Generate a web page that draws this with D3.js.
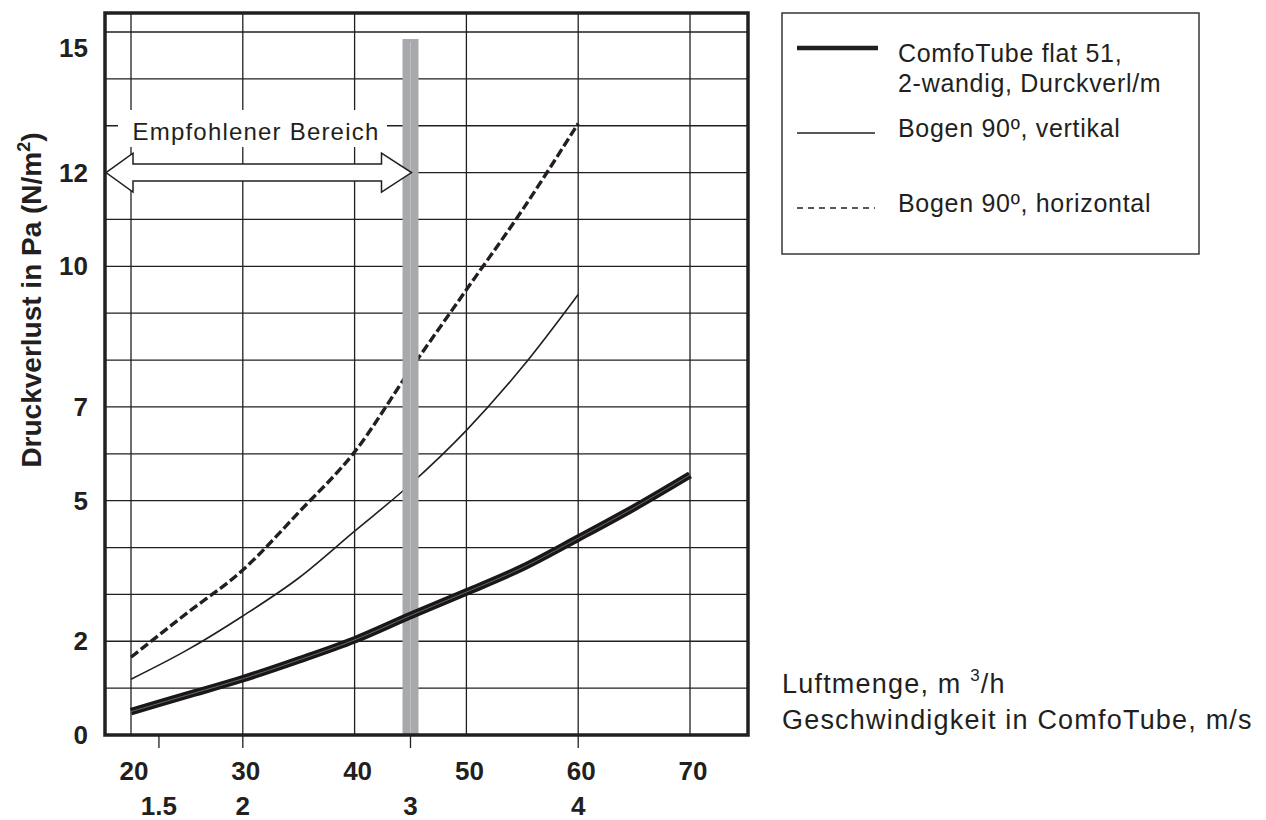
<!DOCTYPE html>
<html>
<head>
<meta charset="utf-8">
<script src="https://cdn.jsdelivr.net/npm/d3@7"></script>
<style>
  body { margin: 0; background: #fff; }
  svg { font-family: "Liberation Sans", Arial, Helvetica, sans-serif; }
</style>
</head>
<body>
<div id="chart"></div>
<script>
// Luftmenge (m3/h) and Druckverlust (Pa)
const flow = [20, 25, 30, 35, 40, 45, 50, 55, 60, 65, 70];
const tubeLoss = [0.5, 0.85, 1.2, 1.6, 2.03, 2.55, 3.05, 3.57, 4.2, 4.85, 5.55];
const bogenFlow = [20, 25, 30, 35, 40, 45, 50, 55, 60];
const bogenVertikal = [1.19, 1.81, 2.54, 3.35, 4.35, 5.35, 6.5, 7.85, 9.4];
const bogenHorizontal = [1.66, 2.6, 3.52, 4.75, 6.04, 7.8, 9.5, 11.2, 13.05];

const yTicks = [0, 2, 5, 7, 10, 12, 15];
const flowTicks = [20, 30, 40, 50, 60, 70];
const speedTicks = [1.5, 2, 3, 4];
const recommendedMax = 3; // m/s
const legendLabels = [
    ["ComfoTube flat 51,", "2-wandig, Durckverl/m"],
    ["Bogen 90º, vertikal"],
    ["Bogen 90º, horizontal"]
];

const W = 1266, H = 820;
const box = { left: 105, right: 748, top: 13, bottom: 735 };

const svg = d3.select("#chart").append("svg")
    .attr("width", W)
    .attr("height", H);

const x = d3.scaleLinear().domain([20, 70]).range([131, 690]);
// velocity in the tube = flow / 15
const xv = d3.scaleLinear().domain([20 / 15, 70 / 15]).range([131, 690]);
const y = d3.scaleLinear().domain([0, 15]).range([box.bottom, 32]);

// grid
const grid = svg.append("g").attr("stroke", "#231f20").attr("stroke-width", 1.3);
grid.selectAll("line.h")
    .data(d3.range(1, 16))
    .enter().append("line")
    .attr("x1", box.left).attr("x2", box.right)
    .attr("y1", d => y(d)).attr("y2", d => y(d));
grid.selectAll("line.v")
    .data(flowTicks)
    .enter().append("line")
    .attr("x1", d => x(d)).attr("x2", d => x(d))
    .attr("y1", box.top).attr("y2", box.bottom);

// label of recommended range, white background hides grid
svg.append("rect")
    .attr("x", 118).attr("y", 110)
    .attr("width", 269).attr("height", 37)
    .attr("fill", "#fff");
svg.append("text")
    .attr("x", 256).attr("y", 140)
    .attr("text-anchor", "middle")
    .attr("font-size", 24)
    .attr("letter-spacing", 1.2)
    .attr("fill", "#231f20")
    .text("Empfohlener Bereich");

const line = d3.line()
    .x(d => x(d[0]))
    .y(d => y(d[1]))
    .curve(d3.curveMonotoneX);

// bends, behind the grey bar
svg.append("path")
    .datum(d3.zip(bogenFlow, bogenVertikal))
    .attr("d", line)
    .attr("fill", "none")
    .attr("stroke", "#231f20")
    .attr("stroke-width", 1.6);

svg.append("path")
    .datum(d3.zip(bogenFlow, bogenHorizontal))
    .attr("d", line)
    .attr("fill", "none")
    .attr("stroke", "#231f20")
    .attr("stroke-width", 3.4)
    .attr("stroke-dasharray", "9,3.5");

// grey bar at 3 m/s
const bx = xv(recommendedMax);
svg.append("rect")
    .attr("x", bx - 8).attr("y", y(15) + 7)
    .attr("width", 16).attr("height", box.bottom - y(15) - 7)
    .attr("fill", "#a7a9ac");
svg.append("line")
    .attr("x1", bx).attr("x2", bx)
    .attr("y1", y(15) + 10).attr("y2", box.bottom)
    .attr("stroke", "#c3c5c7").attr("stroke-width", 0.8);

// double arrow
const ay = y(12), ax0 = box.left + 1, ax1 = bx + 1;
const hl = 27, hw = 19.5, bw = 8.5;
svg.append("path")
    .attr("d", [
        "M", ax0, ay,
        "L", ax0 + hl, ay - hw,
        "L", ax0 + hl, ay - bw,
        "L", ax1 - hl - 3, ay - bw,
        "L", ax1 - hl - 3, ay - hw,
        "L", ax1, ay,
        "L", ax1 - hl - 3, ay + hw,
        "L", ax1 - hl - 3, ay + bw,
        "L", ax0 + hl, ay + bw,
        "L", ax0 + hl, ay + hw, "Z"
    ].join(" "))
    .attr("fill", "#fff")
    .attr("stroke", "#231f20")
    .attr("stroke-width", 1.5);

// ComfoTube line, on top
const tube = d3.zip(flow, tubeLoss);
svg.append("path")
    .datum(tube)
    .attr("d", line)
    .attr("fill", "none")
    .attr("stroke", "#1a1718")
    .attr("stroke-width", 7.5);
svg.append("path")
    .datum(tube)
    .attr("d", line)
    .attr("fill", "none")
    .attr("stroke", "#8a8889")
    .attr("stroke-width", 0.7);

// frame
svg.append("rect")
    .attr("x", box.left).attr("y", box.top)
    .attr("width", box.right - box.left)
    .attr("height", box.bottom - box.top)
    .attr("fill", "none")
    .attr("stroke", "#231f20")
    .attr("stroke-width", 3.5);

// y labels
svg.selectAll("text.ylab")
    .data(yTicks)
    .enter().append("text")
    .attr("class", "ylab")
    .attr("x", 88)
    // the top label sits a little below its grid line in the original
    .attr("y", d => y(d) + 9 + (d === 15 ? 16 : 0))
    .attr("text-anchor", "end")
    .attr("font-size", 26)
    .attr("font-weight", "bold")
    .attr("fill", "#231f20")
    .text(d => d);

svg.append("text")
    .attr("transform", "translate(41,300) rotate(-90)")
    .attr("text-anchor", "middle")
    .attr("font-size", 28)
    .attr("font-weight", "bold")
    .attr("fill", "#231f20")
    .text("Druckverlust in Pa (N/m")
    .append("tspan").attr("font-size", 18).attr("dy", -11).text("2")
    .select(function() { return this.parentNode; })
    .append("tspan").attr("dy", 11).text(")");

// x labels, flow
svg.selectAll("text.xlab")
    .data(flowTicks)
    .enter().append("text")
    .attr("x", d => x(d) + 3)
    .attr("y", 780)
    .attr("text-anchor", "middle")
    .attr("font-size", 26)
    .attr("font-weight", "bold")
    .attr("fill", "#231f20")
    .text(d => d);

// x labels, velocity, with ticks under the frame
svg.selectAll("line.vtick")
    .data(speedTicks)
    .enter().append("line")
    .attr("x1", d => xv(d)).attr("x2", d => xv(d))
    .attr("y1", box.bottom).attr("y2", box.bottom + 13)
    .attr("stroke", "#231f20").attr("stroke-width", 1.3);
svg.selectAll("text.vlab")
    .data(speedTicks)
    .enter().append("text")
    .attr("x", d => xv(d))
    .attr("y", 815)
    .attr("text-anchor", "middle")
    .attr("font-size", 26)
    .attr("font-weight", "bold")
    .attr("fill", "#231f20")
    .text(d => d);

// axis titles, bottom right
const tx = svg.append("text")
    .attr("x", 782).attr("y", 693)
    .attr("font-size", 27)
    .attr("letter-spacing", 1.2)
    .attr("fill", "#231f20");
tx.append("tspan").text("Luftmenge, m ");
tx.append("tspan").attr("font-size", 17).attr("dy", -12).text("3");
tx.append("tspan").attr("dy", 12).text("/h");
svg.append("text")
    .attr("x", 782).attr("y", 729)
    .attr("font-size", 27)
    .attr("letter-spacing", 1.2)
    .attr("fill", "#231f20")
    .text("Geschwindigkeit in ComfoTube, m/s");

// legend
const lg = svg.append("g");
lg.append("rect")
    .attr("x", 782).attr("y", 13)
    .attr("width", 417).attr("height", 241)
    .attr("fill", "#fff")
    .attr("stroke", "#3a3637")
    .attr("stroke-width", 1.5);
const legendStyle = [
    { y: 48, w: 4.5, dash: null, x2: 878 },
    { y: 133, w: 1.6, dash: null, x2: 875 },
    { y: 208, w: 1.6, dash: "6,5", x2: 875 }
];
const legendText = [62, 137, 212];
legendStyle.forEach((s, i) => {
    lg.append("line")
        .attr("x1", 797).attr("x2", s.x2)
        .attr("y1", s.y).attr("y2", s.y)
        .attr("stroke", "#231f20")
        .attr("stroke-width", s.w)
        .attr("stroke-dasharray", s.dash);
    const t = lg.append("text")
        .attr("x", 898).attr("y", legendText[i])
        .attr("font-size", 25)
        .attr("letter-spacing", 0.7)
        .attr("fill", "#231f20");
    legendLabels[i].forEach((l, j) => {
        t.append("tspan").attr("x", 898).attr("dy", j ? 30 : 0).text(l);
    });
});
</script>
</body>
</html>
